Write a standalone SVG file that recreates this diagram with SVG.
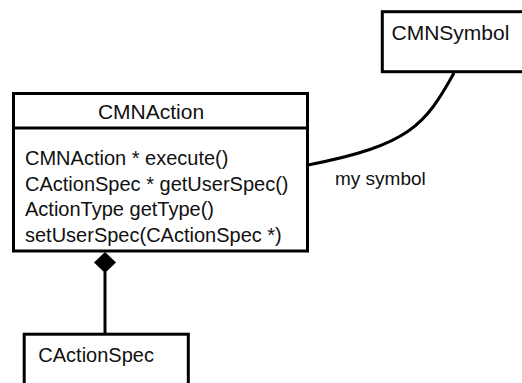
<svg xmlns="http://www.w3.org/2000/svg" width="522" height="383" viewBox="0 0 522 383">
  <style>
    .box { fill: #fff; stroke: #000; stroke-width: 3; }
    .sep { stroke: #000; stroke-width: 3; }
    .name { font-family: "Liberation Sans", Arial, sans-serif; font-size: 21px; fill: #111; }
    .op { font-family: "Liberation Sans", Arial, sans-serif; font-size: 20px; fill: #111; }
    .lbl { font-family: "Liberation Sans", Arial, sans-serif; font-size: 19px; fill: #111; }
    .conn { fill: none; stroke: #000; stroke-width: 3; }
  </style>
  <rect width="522" height="383" fill="#fff"/>
  <g id="connectors">
    <path class="conn" d="M454,73 C425,125 410,145 308,165"/>
    <line class="conn" x1="105" y1="272" x2="105" y2="334"/>
    <path d="M105,252 L116,262.5 L105,273 L94,262.5 Z" fill="#000"/>
    <text class="lbl" x="335" y="185">my symbol</text>
  </g>
  <g id="CMNAction">
    <rect class="box" x="13.5" y="93.5" width="294" height="157.5"/>
    <line class="sep" x1="13.5" y1="128" x2="307.5" y2="128"/>
    <text class="name" x="151" y="119" text-anchor="middle">CMNAction</text>
    <text class="op" x="25" y="165">CMNAction * execute()</text>
    <text class="op" x="25" y="190.5">CActionSpec * getUserSpec()</text>
    <text class="op" x="25" y="216">ActionType getType()</text>
    <text class="op" x="25" y="241.5">setUserSpec(CActionSpec *)</text>
  </g>
  <g id="CMNSymbol">
    <rect class="box" x="382.3" y="11.7" width="150" height="60"/>
    <text class="name" x="391.5" y="39.5">CMNSymbol</text>
  </g>
  <g id="CActionSpec">
    <rect class="box" x="24.2" y="334.2" width="164.1" height="60"/>
    <text class="op" x="38.3" y="361.5">CActionSpec</text>
  </g>
</svg>
